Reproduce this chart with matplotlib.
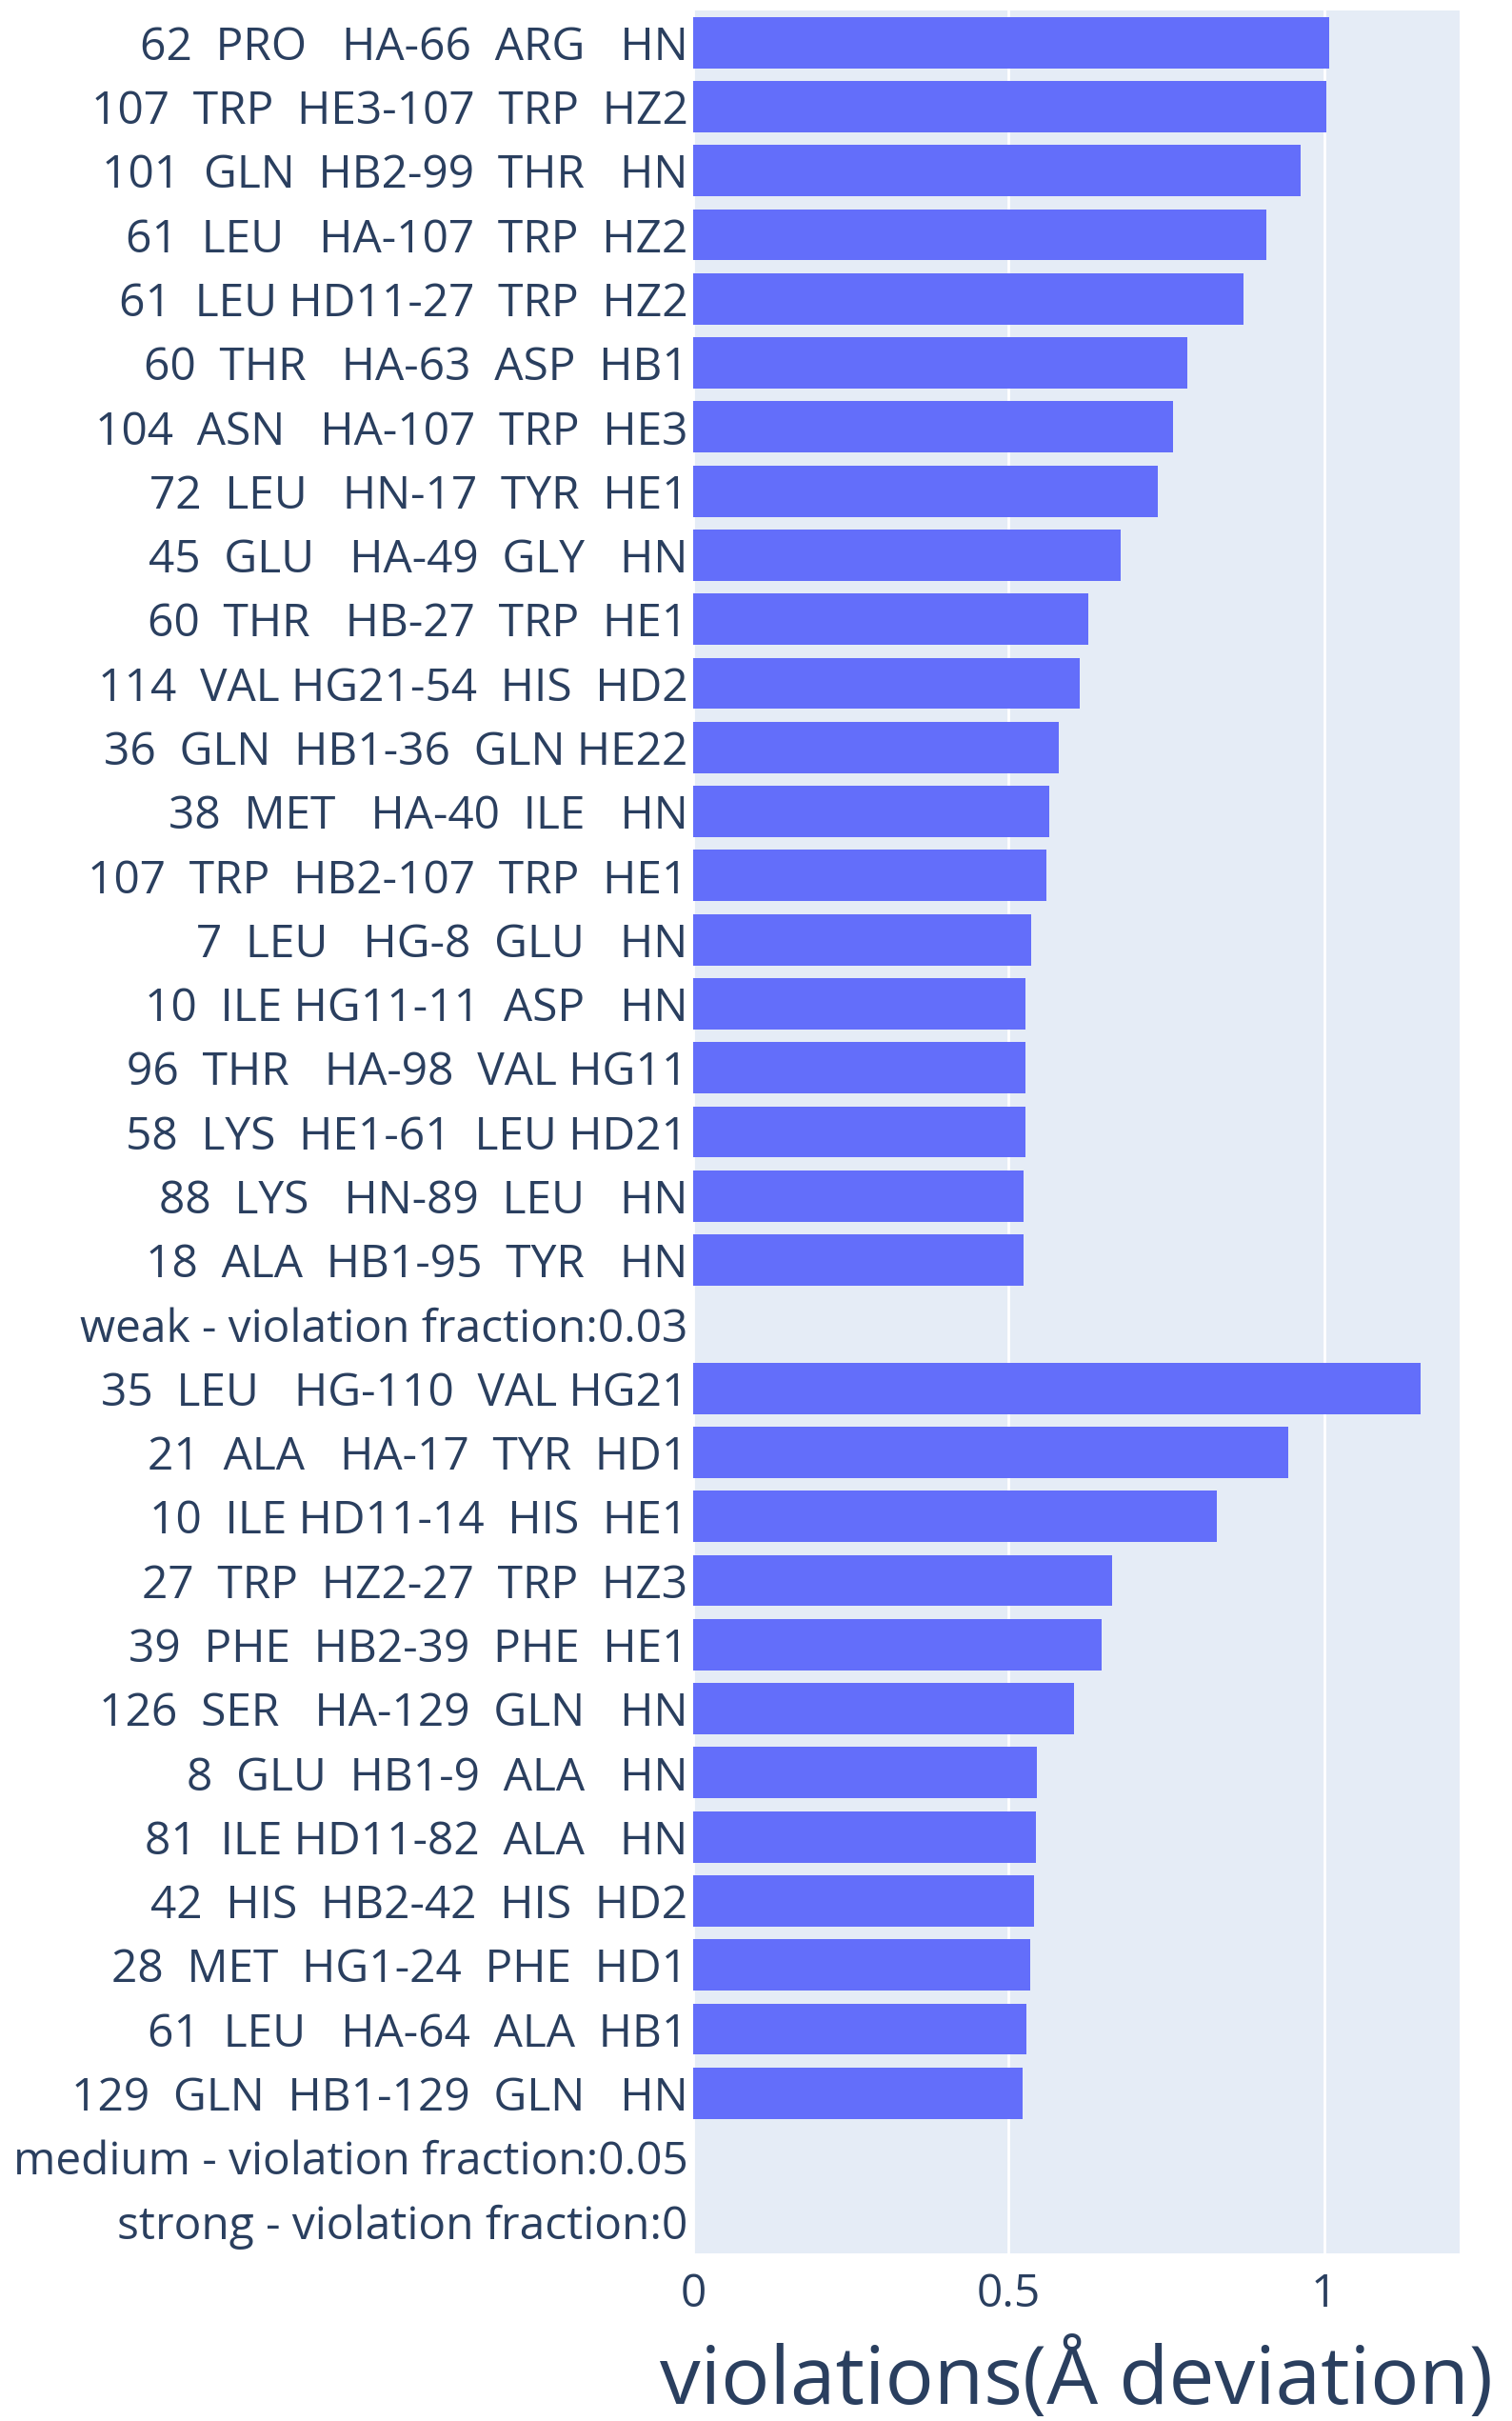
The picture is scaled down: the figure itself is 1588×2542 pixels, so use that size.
import matplotlib
matplotlib.use("Agg")
import matplotlib.pyplot as plt

# restraint labels, top to bottom
labels = [
    "62  PRO   HA-66  ARG   HN",
    "107  TRP  HE3-107  TRP  HZ2",
    "101  GLN  HB2-99  THR   HN",
    "61  LEU   HA-107  TRP  HZ2",
    "61  LEU HD11-27  TRP  HZ2",
    "60  THR   HA-63  ASP  HB1",
    "104  ASN   HA-107  TRP  HE3",
    "72  LEU   HN-17  TYR  HE1",
    "45  GLU   HA-49  GLY   HN",
    "60  THR   HB-27  TRP  HE1",
    "114  VAL HG21-54  HIS  HD2",
    "36  GLN  HB1-36  GLN HE22",
    "38  MET   HA-40  ILE   HN",
    "107  TRP  HB2-107  TRP  HE1",
    "7  LEU   HG-8  GLU   HN",
    "10  ILE HG11-11  ASP   HN",
    "96  THR   HA-98  VAL HG11",
    "58  LYS  HE1-61  LEU HD21",
    "88  LYS   HN-89  LEU   HN",
    "18  ALA  HB1-95  TYR   HN",
    "weak - violation fraction:0.03",
    "35  LEU   HG-110  VAL HG21",
    "21  ALA   HA-17  TYR  HD1",
    "10  ILE HD11-14  HIS  HE1",
    "27  TRP  HZ2-27  TRP  HZ3",
    "39  PHE  HB2-39  PHE  HE1",
    "126  SER   HA-129  GLN   HN",
    "8  GLU  HB1-9  ALA   HN",
    "81  ILE HD11-82  ALA   HN",
    "42  HIS  HB2-42  HIS  HD2",
    "28  MET  HG1-24  PHE  HD1",
    "61  LEU   HA-64  ALA  HB1",
    "129  GLN  HB1-129  GLN   HN",
    "medium - violation fraction:0.05",
    "strong - violation fraction:0",
]

# violation in Angstrom (0 for the group header rows)
violations = [
    1.008, 1.004, 0.963, 0.908, 0.873, 0.784, 0.760, 0.737, 0.677, 0.627,
    0.613, 0.579, 0.565, 0.560, 0.536, 0.527, 0.527, 0.526, 0.524, 0.523,
    0.0,
    1.153, 0.943, 0.830, 0.664, 0.647, 0.604, 0.545, 0.543, 0.540, 0.535,
    0.528, 0.522,
    0.0, 0.0,
]

x_ticks = [0, 0.5, 1]
x_ticklabels = ["0", "0.5", "1"]

text_col = "#2a3f5f"
plt.rcParams["font.family"] = ["Open Sans", "DejaVu Sans"]

fig = plt.figure(figsize=(15.88, 25.42), dpi=100)
ax = fig.add_axes([728 / 1588, 1 - 2366 / 2542, (1533 - 728) / 1588, (2366 - 11) / 2542])
ax.set_facecolor("#E5ECF6")

pos = list(range(len(labels)))
ax.barh(pos, violations, height=0.8, color="#636efa", zorder=3)

ax.set_ylim(len(labels) - 0.5, -0.5)
ax.set_xlim(0, 1.215)
ax.set_yticks(pos)
ax.set_yticklabels(labels)
ax.set_xticks(x_ticks)
ax.set_xticklabels(x_ticklabels)
ax.tick_params(axis="y", length=0, pad=4, labelsize=34.5, labelcolor=text_col)
ax.tick_params(axis="x", length=0, pad=14, labelsize=34.5, labelcolor=text_col)
ax.grid(axis="x", color="white", linewidth=2, zorder=1)
for s in ax.spines.values():
    s.set_visible(False)

ax.set_xlabel("violations(Å deviation)", fontsize=61.5, color=text_col, labelpad=17)

fig.savefig("out.png", dpi=100)
